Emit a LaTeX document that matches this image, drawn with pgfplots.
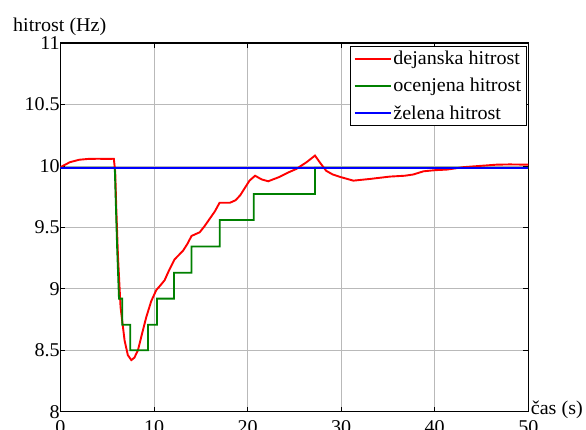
\documentclass[border=0pt]{standalone}
\usepackage{fontspec}
\setmainfont{Liberation Serif}[FakeStretch=1.03]
\usepackage{pgfplots}
\pgfplotsset{compat=1.18}

\definecolor{mred}{RGB}{255,0,0}
\definecolor{mgreen}{RGB}{0,128,0}
\definecolor{mblue}{RGB}{0,0,255}

\begin{document}
\begin{tikzpicture}[font=\fontsize{19.5}{22}\selectfont]
\begin{axis}[
  at={(0,0)}, anchor=south west,
  scale only axis,
  width=467.8pt, height=368.7pt,
  xmin=0, xmax=50, ymin=8, ymax=11,
  xtick={0,10,...,50},
  ytick={8,8.5,...,11},
  scaled ticks=false,
  /pgf/number format/assume math mode=true,
  /pgf/number format/fixed,
  /pgf/number format/precision=1,
  tick align=inside,
  major tick length=5pt,
  tick style={black, line width=0.6pt},
  axis line style={black, line width=1.1pt},
  grid=major,
  major grid style={gray!55, line width=0.7pt},
  xticklabel style={yshift=-5.5pt},
  yticklabel style={xshift=2.7pt},
  xlabel={čas (s)},
  ylabel={hitrost (Hz)},
  every axis x label/.style={at={(axis description cs:1,0)}, anchor=base west,
    inner sep=0pt, xshift=2.4pt, yshift=-3.3pt},
  every axis y label/.style={at={(axis description cs:0,1)}, anchor=base west,
    inner sep=0pt, xshift=-47.5pt, yshift=11.5pt},
  legend style={at={(axis description cs:1,1)}, anchor=north east,
    xshift=-1.3pt, yshift=-3pt, draw=black, line width=0.8pt, fill=white,
    inner xsep=3.5pt, inner ysep=3pt, row sep=8pt,
    cells={anchor=west}},
  legend image code/.code={\draw[#1, line width=1.6pt] (0pt,0pt) -- (36pt,0pt);},
]
% measured speed
\addplot[mred, line width=1.9pt] coordinates {
  (0,9.99) (0.5,10.01) (1,10.03) (2,10.05) (3,10.057) (4,10.058) (5,10.057)
  (5.7,10.058) (5.85,9.95) (5.96,9.66) (6.14,9.27) (6.42,8.85) (6.85,8.58)
  (7.2,8.46) (7.57,8.42) (7.9,8.44) (8.28,8.50) (8.7,8.63) (9.17,8.77)
  (9.7,8.9) (10.24,8.99) (10.7,9.03) (11.13,9.07) (11.6,9.15) (12.2,9.24)
  (13.1,9.31) (13.6,9.37) (14.0,9.43) (14.88,9.46) (15.4,9.51) (15.95,9.57)
  (16.5,9.63) (17.0,9.70) (18.1,9.70) (18.7,9.72) (19.2,9.76) (20.2,9.88)
  (20.8,9.92) (21.5,9.89) (22.2,9.875) (23.4,9.91) (24.3,9.945) (25.2,9.975)
  (26.3,10.03) (27.2,10.084) (27.8,10.02) (28.4,9.96) (29.1,9.93) (29.9,9.91)
  (31.3,9.88) (33.1,9.894) (35.2,9.913) (36.8,9.92) (37.7,9.93) (38.8,9.956)
  (40,9.965) (41.3,9.97) (43.1,9.99) (45.2,10.002) (46.6,10.01) (48,10.012)
  (50,10.01)
};
\addlegendentry{dejanska hitrost}
% estimated speed (sampled, held between updates)
\addplot[mgreen, line width=1.8pt] coordinates {
  (0,9.985) (5.8,9.985) (6.05,9.34) (6.15,9.13) (6.25,8.92) (6.6,8.92)
  (6.6,8.707) (7.46,8.707) (7.46,8.5) (9.35,8.5) (9.35,8.707) (10.31,8.707)
  (10.31,8.92) (12.13,8.92) (12.13,9.13) (14.0,9.13) (14.0,9.344) (17.02,9.344)
  (17.02,9.56) (20.66,9.56) (20.66,9.772) (27.2,9.772) (27.2,9.985) (50,9.985)
};
\addlegendentry{ocenjena hitrost}
% reference speed
\addplot[mblue, line width=1.9pt] coordinates {(0,9.985) (50,9.985)};
\addlegendentry{želena hitrost}
\end{axis}
\pgfresetboundingbox
\path[use as bounding box] (-60.5pt,-18.3pt) rectangle (525.5pt,411.7pt);
\end{tikzpicture}
\end{document}
